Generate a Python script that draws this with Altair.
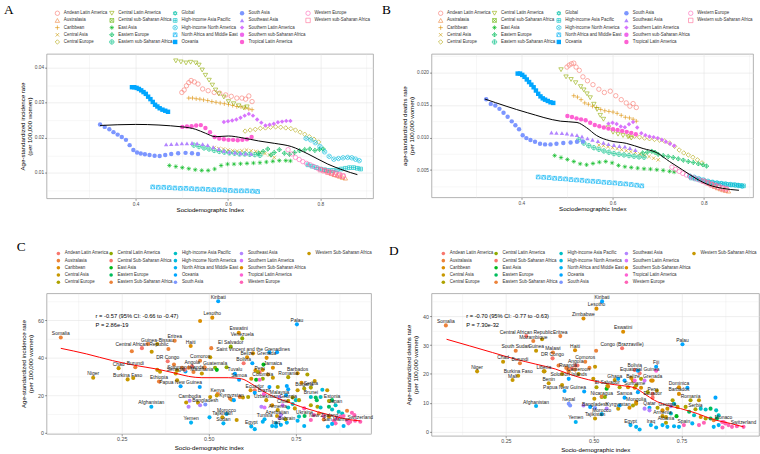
import math
import altair as alt
import pandas as pd

SANS = "Liberation Sans"
SERIF = "Liberation Serif"

# ---------------------------------------------------------------------------
# Regions (legend order)
# ---------------------------------------------------------------------------
region_codes = ["AND", "AUS", "CAR", "CAS", "CEU", "CLA", "CSSA", "EAS", "EEU", "ESSA", "GLB",
                "HAP", "HNA", "NAM", "OCE", "SAS", "SEA", "SLA", "SSSA", "TLA", "WEU", "WSSA"]
region_names_ab = ["Andean Latin America", "Australasia", "Caribbean", "Central Asia", "Central Europe",
                   "Central Latin America", "Central sub-Saharan Africa", "East Asia", "Eastern Europe",
                   "Eastern sub-Saharan Africa", "Global", "High-income Asia Pacific",
                   "High-income North America", "North Africa and Middle East", "Oceania", "South Asia",
                   "Southeast Asia", "Southern Latin America", "Southern sub-Saharan Africa",
                   "Tropical Latin America", "Western Europe", "Western sub-Saharan Africa"]
codes_cd = [c for c in region_codes if c != "GLB"]
region_names_cd = ["Andean Latin America", "Australasia", "Caribbean", "Central Asia", "Central Europe",
                   "Central Latin America", "Central Sub-Saharan Africa", "East Asia", "Eastern Europe",
                   "Eastern Sub-Saharan Africa", "High-income Asia Pacific", "High-income North America",
                   "North Africa and Middle East", "Oceania", "South Asia", "Southeast Asia",
                   "Southern Latin America", "Southern Sub-Saharan Africa", "Tropical Latin America",
                   "Western Europe", "Western Sub-Saharan Africa"]

# ---------------------------------------------------------------------------
# Regional trajectories 1990-2019: SDI, incidence rate, death rate
# ---------------------------------------------------------------------------
andean_sdi = [0.500, 0.505, 0.510, 0.515, 0.520, 0.527, 0.535, 0.545, 0.557, 0.570, 0.582, 0.595, 0.607, 0.619, 0.630, 0.638, 0.645, 0.652]
andean_inc = [0.0329, 0.0336, 0.0348, 0.0357, 0.0363, 0.0359, 0.0353, 0.0339, 0.0334, 0.0329, 0.0327, 0.0322, 0.0318, 0.0313, 0.0313, 0.0310, 0.0319, 0.0303]
andean_dth = [0.0208, 0.0211, 0.0213, 0.0214, 0.0208, 0.0203, 0.0193, 0.0187, 0.0181, 0.0174, 0.0169, 0.0171, 0.0164, 0.0158, 0.0153, 0.0148, 0.0152, 0.0146]

austral_sdi = [0.812, 0.818, 0.824, 0.830, 0.836, 0.842, 0.848, 0.854]
austral_inc = [0.0107, 0.0102, 0.0099, 0.0095, 0.0093, 0.0090, 0.0087, 0.0085]
austral_dth = [0.00293, 0.00268, 0.00247, 0.00227, 0.00212, 0.00197, 0.00187, 0.00177]

carib_sdi = [0.515, 0.523, 0.531, 0.539, 0.547, 0.556, 0.565, 0.574, 0.583, 0.592, 0.601, 0.610, 0.619, 0.628, 0.637, 0.645, 0.652]
carib_inc = [0.0313, 0.0313, 0.0311, 0.0310, 0.0308, 0.0306, 0.0303, 0.0301, 0.0299, 0.0297, 0.0295, 0.0292, 0.0289, 0.0288, 0.0285, 0.0282, 0.0280]
carib_dth = [0.0164, 0.0162, 0.0158, 0.0153, 0.0151, 0.0148, 0.0146, 0.0143, 0.0141, 0.0140, 0.0139, 0.0137, 0.0134, 0.0131, 0.0130, 0.0128, 0.0125]

casia_sdi = [0.570, 0.580, 0.590, 0.600, 0.610, 0.620, 0.630, 0.640, 0.650, 0.660, 0.670, 0.680, 0.690, 0.700]
casia_inc = [0.0172, 0.0169, 0.0168, 0.0165, 0.0163, 0.0162, 0.0163, 0.0165, 0.0163, 0.0161, 0.0158, 0.0155, 0.0151, 0.0144]
casia_dth = [0.00884, 0.00874, 0.00859, 0.00843, 0.00828, 0.00813, 0.00798, 0.00783, 0.00768, 0.00747, 0.00727, 0.00707, 0.00682, 0.00657]

ceurope_sdi = [0.637, 0.648, 0.659, 0.670, 0.681, 0.692, 0.703, 0.714, 0.725, 0.736, 0.746, 0.756, 0.766, 0.776, 0.786, 0.796]
ceurope_inc = [0.0219, 0.0222, 0.0224, 0.0227, 0.0228, 0.0230, 0.0231, 0.0230, 0.0228, 0.0226, 0.0222, 0.0216, 0.0210, 0.0203, 0.0196, 0.0188]
ceurope_dth = [0.01025, 0.0102, 0.01005, 0.0099, 0.0098, 0.0097, 0.0096, 0.00944, 0.00914, 0.00864, 0.00808, 0.00763, 0.00732, 0.00697, 0.00657, 0.00611]

clatam_sdi = [0.487, 0.498, 0.509, 0.519, 0.530, 0.537, 0.544, 0.551, 0.559, 0.566, 0.573, 0.580, 0.591, 0.601, 0.612, 0.623, 0.634, 0.641]
clatam_inc = [0.0419, 0.0416, 0.0413, 0.0415, 0.0413, 0.0407, 0.0393, 0.0378, 0.0364, 0.0350, 0.0336, 0.0325, 0.0316, 0.0303, 0.0297, 0.0291, 0.0285, 0.0288]
clatam_dth = [0.0204, 0.0193, 0.0189, 0.0184, 0.0178, 0.0173, 0.0167, 0.0161, 0.0151, 0.0143, 0.0134, 0.0128, 0.0115, 0.0108, 0.0105, 0.0103, 0.0101, 0.0099]

easia_sdi = [0.473, 0.487, 0.501, 0.515, 0.529, 0.543, 0.557, 0.571, 0.585, 0.599, 0.613, 0.627, 0.641, 0.655, 0.669, 0.683, 0.697, 0.711, 0.725, 0.735]
easia_inc = [0.0121, 0.0118, 0.0115, 0.0112, 0.0109, 0.0107, 0.0107, 0.0111, 0.0121, 0.0125, 0.0125, 0.0126, 0.0127, 0.0128, 0.0129, 0.0131, 0.0133, 0.0135, 0.0135, 0.0134]
easia_dth = [0.00722, 0.00692, 0.00662, 0.00631, 0.00596, 0.00581, 0.00601, 0.00621, 0.00631, 0.00611, 0.00571, 0.00551, 0.0054, 0.0053, 0.0052, 0.00515, 0.00505, 0.00495, 0.0048, 0.0047]

eeurope_sdi = [0.666, 0.676, 0.686, 0.693, 0.700, 0.711, 0.722, 0.733, 0.744, 0.755, 0.766, 0.777, 0.788, 0.798, 0.806]
eeurope_inc = [0.0156, 0.0161, 0.0168, 0.0151, 0.0158, 0.0166, 0.0156, 0.0153, 0.0158, 0.0163, 0.0166, 0.0168, 0.0164, 0.0167, 0.0168]
eeurope_dth = [0.00763, 0.00773, 0.00788, 0.00773, 0.00742, 0.00722, 0.00707, 0.00692, 0.00672, 0.00652, 0.00631, 0.00616, 0.00596, 0.00581, 0.00561]

essa_sdi = [0.526, 0.537, 0.548, 0.559, 0.570, 0.581, 0.592, 0.603, 0.614, 0.625, 0.636, 0.647, 0.658, 0.669]
essa_inc = [0.0179, 0.0175, 0.0171, 0.0168, 0.0164, 0.0161, 0.0159, 0.0157, 0.0156, 0.0154, 0.0154, 0.0153, 0.0152, 0.0150]
essa_dth = [0.00965, 0.00914, 0.00874, 0.00843, 0.00818, 0.00793, 0.00773, 0.00753, 0.00742, 0.00732, 0.00722, 0.00712, 0.00702, 0.00697]

hiap_sdi = [0.773, 0.782, 0.791, 0.800, 0.809, 0.818, 0.827, 0.836, 0.845, 0.854, 0.863, 0.872, 0.880, 0.887]
hiap_inc = [0.0123, 0.0119, 0.0115, 0.0111, 0.0109, 0.0107, 0.0107, 0.0109, 0.0111, 0.0113, 0.0115, 0.0115, 0.0113, 0.0111]
hiap_dth = [0.00379, 0.00364, 0.00348, 0.00333, 0.00318, 0.00308, 0.00298, 0.00293, 0.00288, 0.00278, 0.00273, 0.00268, 0.00263, 0.00258]

hina_sdi = [0.769, 0.779, 0.789, 0.799, 0.809, 0.819, 0.829, 0.839, 0.849, 0.859, 0.868, 0.876, 0.884]
hina_inc = [0.0198, 0.0194, 0.0186, 0.0175, 0.0160, 0.0147, 0.0139, 0.0141, 0.0143, 0.0144, 0.0143, 0.0139, 0.0135]
hina_dth = [0.00409, 0.00389, 0.00369, 0.00348, 0.00328, 0.00313, 0.00303, 0.00293, 0.00283, 0.00278, 0.00273, 0.00263, 0.00253]

nafme_sdi = [0.437, 0.449, 0.461, 0.473, 0.485, 0.497, 0.509, 0.521, 0.533, 0.545, 0.557, 0.569, 0.581, 0.593, 0.605, 0.617, 0.629, 0.641, 0.653, 0.664]
nafme_inc = [0.0060, 0.0059, 0.0059, 0.0058, 0.0057, 0.0056, 0.0056, 0.0055, 0.0054, 0.0054, 0.0053, 0.0052, 0.0052, 0.0051, 0.0050, 0.0049, 0.0049, 0.0049, 0.0048, 0.0047]
nafme_dth = [0.00394, 0.00389, 0.00384, 0.00374, 0.00369, 0.00364, 0.00354, 0.00348, 0.00343, 0.00333, 0.00328, 0.00323, 0.00313, 0.00308, 0.00303, 0.00293, 0.00288, 0.00278, 0.00268, 0.00258]

oceania_sdi = [0.392, 0.397, 0.402, 0.407, 0.412, 0.417, 0.422, 0.427, 0.432, 0.437, 0.442, 0.447, 0.452, 0.458, 0.464, 0.470]
oceania_inc = [0.0344, 0.0344, 0.0342, 0.0339, 0.0335, 0.0330, 0.0325, 0.0317, 0.0310, 0.0302, 0.0294, 0.0289, 0.0284, 0.0280, 0.0277, 0.0274]
oceania_dth = [0.0198, 0.0198, 0.0196, 0.0193, 0.0189, 0.0185, 0.0181, 0.0177, 0.0172, 0.0167, 0.0163, 0.0160, 0.0158, 0.0156, 0.0154, 0.0153]

sasia_sdi = [0.323, 0.333, 0.343, 0.352, 0.361, 0.370, 0.379, 0.387, 0.395, 0.403, 0.411, 0.420, 0.430, 0.441, 0.452, 0.464, 0.477, 0.492, 0.508, 0.522, 0.535]
sasia_inc = [0.0238, 0.0231, 0.0224, 0.0216, 0.0209, 0.0202, 0.0194, 0.0179, 0.0165, 0.0158, 0.0155, 0.0153, 0.0151, 0.0149, 0.0148, 0.0151, 0.0154, 0.0156, 0.0157, 0.0156, 0.0154]
sasia_dth = [0.01586, 0.01515, 0.0149, 0.01439, 0.01379, 0.01318, 0.01247, 0.01187, 0.01126, 0.01035, 0.0099, 0.0096, 0.00934, 0.00904, 0.00894, 0.00894, 0.00904, 0.00914, 0.00924, 0.00934, 0.00939]

seasia_sdi = [0.466, 0.477, 0.489, 0.500, 0.511, 0.522, 0.533, 0.545, 0.556, 0.568, 0.580, 0.591, 0.603, 0.615, 0.627, 0.638, 0.650]
seasia_inc = [0.0181, 0.0182, 0.0183, 0.0184, 0.0184, 0.0185, 0.0184, 0.0182, 0.0179, 0.0173, 0.0168, 0.0163, 0.0160, 0.0158, 0.0156, 0.0155, 0.0154]
seasia_dth = [0.01076, 0.01071, 0.01066, 0.01061, 0.01045, 0.01035, 0.01015, 0.00985, 0.00965, 0.00944, 0.00919, 0.00899, 0.00884, 0.00869, 0.00859, 0.00838, 0.00808]

slatam_sdi = [0.591, 0.600, 0.609, 0.618, 0.627, 0.636, 0.645, 0.654, 0.663, 0.672, 0.681, 0.690, 0.699, 0.708, 0.717, 0.726, 0.735]
slatam_inc = [0.0245, 0.0247, 0.0249, 0.0252, 0.0257, 0.0263, 0.0268, 0.0263, 0.0252, 0.0243, 0.0235, 0.0237, 0.0240, 0.0244, 0.0246, 0.0248, 0.0248]
slatam_dth = [0.01212, 0.01227, 0.01207, 0.01167, 0.01157, 0.01202, 0.01237, 0.01152, 0.01066, 0.01035, 0.01015, 0.01005, 0.0099, 0.00965, 0.00934, 0.00904, 0.00874]

tlatam_sdi = [0.501, 0.511, 0.521, 0.531, 0.541, 0.551, 0.561, 0.571, 0.581, 0.591, 0.601, 0.611, 0.621, 0.631, 0.641, 0.651]
tlatam_inc = [0.0231, 0.0232, 0.0233, 0.0235, 0.0236, 0.0228, 0.0216, 0.0202, 0.0198, 0.0196, 0.0194, 0.0194, 0.0193, 0.0194, 0.0196, 0.0202]
tlatam_dth = [0.01328, 0.01313, 0.01293, 0.01278, 0.01263, 0.01227, 0.01192, 0.01172, 0.01152, 0.01136, 0.01126, 0.01116, 0.01101, 0.01086, 0.01071, 0.0105]

weurope_sdi = [0.730, 0.738, 0.746, 0.754, 0.762, 0.770, 0.778, 0.786, 0.794, 0.802, 0.810, 0.818, 0.826, 0.834, 0.842, 0.850]
weurope_inc = [0.0166, 0.0154, 0.0144, 0.0138, 0.0132, 0.0127, 0.0123, 0.0118, 0.0113, 0.0109, 0.0107, 0.0104, 0.0102, 0.0100, 0.0096, 0.0091]
weurope_dth = [0.00545, 0.0051, 0.0048, 0.00449, 0.00424, 0.00399, 0.00379, 0.00359, 0.00338, 0.00318, 0.00303, 0.00283, 0.00268, 0.00253, 0.00232, 0.00217]

wssa_sdi = [0.800, 0.808, 0.816, 0.824, 0.832, 0.840, 0.848]
wssa_inc = [0.0109, 0.0106, 0.0102, 0.0099, 0.0096, 0.0093, 0.0091]
wssa_dth = [0.00328, 0.00303, 0.00278, 0.00258, 0.00237, 0.00217, 0.0020]

# Global expected curve by SDI
global_inc_sdi = [0.323, 0.400, 0.501, 0.530, 0.551, 0.573, 0.601, 0.630, 0.666, 0.701, 0.737, 0.773, 0.816, 0.851, 0.880]
global_inc = [0.0235, 0.0238, 0.0231, 0.0224, 0.0213, 0.0203, 0.0205, 0.0200, 0.0191, 0.0184, 0.0175, 0.0154, 0.0125, 0.0107, 0.0095]
global_dth_sdi = [0.320, 0.413, 0.486, 0.522, 0.543, 0.565, 0.594, 0.630, 0.667, 0.696, 0.725, 0.754, 0.783, 0.812, 0.841, 0.877]
global_dth = [0.0159, 0.0138, 0.0125, 0.0123, 0.0115, 0.0103, 0.0095, 0.0091, 0.0083, 0.0077, 0.0063, 0.0050, 0.0037, 0.0027, 0.0022, 0.0019]

trajectories = [
    ("AND", andean_sdi, andean_inc, andean_dth),
    ("AUS", austral_sdi, austral_inc, austral_dth),
    ("CAR", carib_sdi, carib_inc, carib_dth),
    ("CAS", casia_sdi, casia_inc, casia_dth),
    ("CEU", ceurope_sdi, ceurope_inc, ceurope_dth),
    ("CLA", clatam_sdi, clatam_inc, clatam_dth),
    ("EAS", easia_sdi, easia_inc, easia_dth),
    ("EEU", eeurope_sdi, eeurope_inc, eeurope_dth),
    ("ESSA", essa_sdi, essa_inc, essa_dth),
    ("HAP", hiap_sdi, hiap_inc, hiap_dth),
    ("HNA", hina_sdi, hina_inc, hina_dth),
    ("NAM", nafme_sdi, nafme_inc, nafme_dth),
    ("OCE", oceania_sdi, oceania_inc, oceania_dth),
    ("SAS", sasia_sdi, sasia_inc, sasia_dth),
    ("SEA", seasia_sdi, seasia_inc, seasia_dth),
    ("SLA", slatam_sdi, slatam_inc, slatam_dth),
    ("TLA", tlatam_sdi, tlatam_inc, tlatam_dth),
    ("WEU", weurope_sdi, weurope_inc, weurope_dth),
    ("WSSA", wssa_sdi, wssa_inc, wssa_dth),
]

# ---------------------------------------------------------------------------
# Countries, 2019: incidence (C)
# ---------------------------------------------------------------------------
inc_label_names = ["Kiribati", "Lesotho", "Palau", "Somalia", "Eswatini", "Venezuela", "Eritrea", "Guinea-Bissau",
                   "Central African Republic", "Haiti", "El Salvador", "Saint Vincent and the Grenadines", "Belize",
                   "Grenada", "DR Congo", "Comoros", "Bolivia", "Chad", "Burundi", "Angola", "Solomon Islands",
                   "Guatemala", "Jamaica", "Senegal", "Mauritania", "Tuvalu", "Barbados", "Niger", "Burkina Faso",
                   "Ethiopia", "Papua New Guinea", "Samoa", "Peru", "Colombia", "Romania", "Ecuador", "Bulgaria",
                   "Serbia", "Brazil", "Malaysia", "Kenya", "Kyrgyzstan", "Cambodia", "Bangladesh", "Uzbekistan",
                   "Georgia", "Brunei", "Estonia", "Chile", "Japan", "Afghanistan", "Armenia", "Azerbaijan",
                   "Ukraine", "Morocco", "Tajikistan", "Tunisia", "Sudan", "Yemen", "Egypt", "Iraq", "Bahrain",
                   "New Zealand", "San Marino", "Switzerland"]
inc_label_region = ["OCE", "SSSA", "OCE", "ESSA", "SSSA", "CLA", "ESSA", "WSSA", "CSSA", "CAR", "CLA", "CAR", "CAR",
                    "CAR", "CSSA", "ESSA", "AND", "WSSA", "ESSA", "CSSA", "OCE", "CLA", "CAR", "WSSA", "WSSA", "OCE",
                    "CAR", "WSSA", "WSSA", "ESSA", "OCE", "OCE", "AND", "CLA", "CEU", "AND", "CEU", "CEU", "TLA",
                    "SEA", "ESSA", "CAS", "SEA", "SAS", "CAS", "CAS", "HAP", "EEU", "SLA", "HAP", "NAM", "CAS",
                    "CAS", "EEU", "NAM", "CAS", "NAM", "NAM", "NAM", "NAM", "NAM", "NAM", "AUS", "WEU", "WEU"]
inc_label_sdi = [0.527, 0.510, 0.753, 0.075, 0.586, 0.596, 0.402, 0.352, 0.308, 0.448, 0.563, 0.627, 0.610,
                 0.666, 0.382, 0.475, 0.600, 0.241, 0.289, 0.452, 0.433, 0.518, 0.684, 0.405, 0.480, 0.575,
                 0.755, 0.168, 0.267, 0.357, 0.419, 0.587, 0.646, 0.655, 0.728, 0.632, 0.774, 0.793, 0.658,
                 0.703, 0.525, 0.565, 0.445, 0.490, 0.665, 0.728, 0.793, 0.854, 0.712, 0.864, 0.335, 0.698,
                 0.696, 0.775, 0.551, 0.539, 0.660, 0.542, 0.449, 0.622, 0.693, 0.724, 0.830, 0.864, 0.935]
inc_label_rate = [70.2, 61.4, 57.8, 50.8, 53.3, 50.3, 49.0, 47.3, 45.1, 46.2, 45.9, 42.3, 40.2,
                  39.9, 38.1, 38.4, 37.0, 34.4, 34.9, 35.4, 32.6, 34.6, 34.6, 31.5, 31.5, 31.4,
                  31.7, 29.3, 28.4, 27.3, 24.7, 28.2, 32.3, 28.7, 29.6, 22.6, 23.5, 24.0, 20.5,
                  19.0, 20.5, 17.6, 17.0, 15.0, 17.3, 16.9, 19.0, 17.3, 14.6, 14.6, 13.8, 12.0,
                  8.8, 8.8, 9.9, 8.1, 7.1, 4.9, 5.3, 3.2, 3.2, 5.3, 7.0, 4.9, 5.8]

inc_other_region = ["ESSA", "ESSA", "WSSA", "ESSA", "WSSA", "WSSA", "WSSA", "ESSA", "WSSA", "WSSA",
                    "ESSA", "CSSA", "ESSA", "ESSA", "OCE", "ESSA", "WSSA", "ESSA", "SSSA", "WSSA",
                    "SEA", "WSSA", "SEA", "WSSA", "NAM", "ESSA", "EAS", "CLA", "CAR", "CEU",
                    "CAR", "CAR", "CAS", "OCE", "OCE", "OCE", "EAS", "CAR", "EAS", "TLA",
                    "CAR", "CAS", "CEU", "OCE", "CEU", "OCE", "OCE", "CAS", "HNA", "CAS",
                    "CAR", "OCE", "ESSA", "CAS", "CEU", "WSSA", "ESSA", "OCE", "OCE", "CEU",
                    "HAP", "CEU", "EEU", "EEU", "HAP", "CEU", "SEA", "SLA", "CAR", "HAP",
                    "HAP", "CAS", "WEU", "CEU", "CEU", "HAP", "EEU", "HAP", "HAP", "HAP",
                    "AUS", "WEU", "WEU", "SEA", "SEA", "CEU", "HAP", "WEU", "AUS", "WEU",
                    "CAR", "WEU", "WEU", "WEU", "WEU", "WEU", "WEU", "WEU", "NAM", "NAM",
                    "NAM", "WEU", "NAM", "NAM", "NAM", "NAM", "NAM", "NAM", "NAM", "WEU", "CAS"]
inc_other_sdi = [0.279, 0.325, 0.336, 0.384, 0.283, 0.352, 0.360, 0.400, 0.409, 0.409,
                 0.423, 0.431, 0.442, 0.456, 0.474, 0.487, 0.504, 0.507, 0.475, 0.435,
                 0.442, 0.469, 0.475, 0.504, 0.502, 0.488, 0.523, 0.551, 0.634, 0.641,
                 0.655, 0.670, 0.684, 0.696, 0.674, 0.625, 0.657, 0.622, 0.636, 0.646,
                 0.766, 0.804, 0.783, 0.674, 0.698, 0.724, 0.728, 0.755, 0.826, 0.840,
                 0.620, 0.632, 0.589, 0.598, 0.613, 0.523, 0.561, 0.572, 0.722, 0.741,
                 0.750, 0.759, 0.807, 0.810, 0.821, 0.845, 0.651, 0.660, 0.682, 0.728,
                 0.741, 0.747, 0.774, 0.793, 0.812, 0.821, 0.845, 0.854, 0.873, 0.883,
                 0.897, 0.911, 0.918, 0.707, 0.703, 0.720, 0.759, 0.802, 0.816, 0.830,
                 0.845, 0.859, 0.868, 0.878, 0.887, 0.897, 0.906, 0.920, 0.842, 0.854,
                 0.887, 0.901, 0.632, 0.655, 0.682, 0.693, 0.707, 0.755, 0.774, 0.793, 0.580]
inc_other_rate = [43.4, 47.3, 43.2, 44.6, 29.1, 33.5, 32.5, 36.3, 33.2, 27.9,
                  34.6, 33.5, 34.6, 32.3, 24.3, 34.6, 40.2, 45.1, 59.6, 16.0,
                  13.8, 15.9, 14.6, 19.0, 8.1, 34.9, 33.5, 34.9, 33.2, 32.3,
                  33.5, 31.0, 29.3, 42.9, 42.9, 37.0, 36.3, 28.7, 28.2, 28.2,
                  26.6, 27.5, 31.0, 24.3, 24.3, 24.9, 23.1, 22.6, 22.9, 22.6,
                  22.6, 21.2, 19.0, 18.7, 19.0, 19.8, 18.2, 17.3, 19.9, 18.7,
                  17.3, 17.3, 18.7, 17.3, 19.0, 16.8, 13.8, 13.4, 14.6, 13.4,
                  15.2, 12.9, 12.9, 14.6, 13.8, 13.4, 13.8, 12.3, 11.1, 10.2,
                  11.6, 10.6, 9.3, 9.3, 7.6, 7.1, 8.5, 9.3, 10.2, 8.8,
                  8.5, 6.3, 7.6, 8.5, 8.8, 6.3, 5.8, 6.3, 3.2, 4.6,
                  3.5, 4.9, 1.8, 5.8, 3.5, 4.9, 4.1, 6.3, 3.5, 6.7, 6.7]

inc_fit_sdi = [0.075, 0.149, 0.224, 0.291, 0.348, 0.404, 0.442, 0.480, 0.518, 0.556, 0.594, 0.622, 0.651, 0.688, 0.726, 0.764, 0.812, 0.859, 0.897, 0.935]
inc_fit_rate = [45.0, 42.0, 38.4, 35.8, 34.0, 31.7, 30.0, 29.3, 29.3, 29.3, 28.7, 26.1, 22.6, 19.0, 16.4, 13.8, 11.1, 8.8, 7.1, 6.2]
inc_stats = ["r = -0.57 (95% CI: -0.66 to -0.47)", "P = 2.86e-19"]

# ---------------------------------------------------------------------------
# Countries, 2019: deaths (D)
# ---------------------------------------------------------------------------
dth_label_names = ["Kiribati", "Lesotho", "Zimbabwe", "Somalia", "Eswatini", "Central African Republic", "Eritrea",
                   "Mozambique", "Palau", "Haiti", "Congo (Brazzaville)", "South Sudan", "Guinea", "Malawi",
                   "DR Congo", "Chad", "Burundi", "Comoros", "Angola", "Rwanda", "Cameroon", "Liberia", "Niger",
                   "Burkina Faso", "Mali", "Solomon Islands", "Benin", "Papua New Guinea", "Bolivia", "Fiji",
                   "Equatorial Guinea", "Ghana", "Belize", "Grenada", "El Salvador", "Suriname", "Peru", "Ecuador",
                   "Dominica", "Barbados", "Romania", "Nicaragua", "Samoa", "Mongolia", "Kyrgyzstan", "Nepal",
                   "Bangladesh", "Morocco", "Afghanistan", "Tajikistan", "Yemen", "Egypt", "Iraq", "Albania",
                   "Serbia", "Qatar", "Armenia", "Georgia", "Spain", "Monaco", "Switzerland"]
dth_label_region = ["OCE", "SSSA", "SSSA", "ESSA", "SSSA", "CSSA", "ESSA", "ESSA", "OCE", "CAR", "CSSA", "ESSA",
                    "WSSA", "ESSA", "CSSA", "WSSA", "ESSA", "ESSA", "CSSA", "ESSA", "WSSA", "WSSA", "WSSA", "WSSA",
                    "WSSA", "OCE", "WSSA", "OCE", "AND", "OCE", "CSSA", "WSSA", "CAR", "CAR", "CLA", "CAR", "AND",
                    "AND", "CAR", "CAR", "CEU", "CLA", "OCE", "CAS", "CAS", "SAS", "SAS", "NAM", "NAM", "CAS",
                    "NAM", "NAM", "NAM", "CEU", "CEU", "NAM", "CAS", "CAS", "WEU", "WEU", "WEU"]
dth_label_sdi = [0.524, 0.508, 0.471, 0.079, 0.584, 0.308, 0.405, 0.328, 0.753, 0.447, 0.581, 0.278,
                 0.336, 0.384, 0.383, 0.242, 0.290, 0.476, 0.449, 0.427, 0.457, 0.358, 0.168, 0.285,
                 0.269, 0.429, 0.372, 0.417, 0.617, 0.678, 0.631, 0.560, 0.612, 0.668, 0.539, 0.617,
                 0.668, 0.668, 0.743, 0.743, 0.776, 0.523, 0.588, 0.621, 0.570, 0.429, 0.504, 0.523,
                 0.336, 0.504, 0.449, 0.605, 0.663, 0.706, 0.790, 0.659, 0.696, 0.710, 0.757, 0.870, 0.927]
dth_label_rate = [45.1, 42.6, 39.2, 36.8, 34.6, 33.1, 33.1, 31.4, 30.3, 28.2, 28.9, 28.0,
                  28.0, 27.4, 25.4, 24.2, 23.7, 24.2, 22.9, 21.5, 20.0, 20.9, 20.9, 19.4,
                  17.9, 18.3, 16.8, 14.1, 21.4, 22.5, 20.2, 17.9, 17.7, 17.7, 15.8, 15.2,
                  13.1, 11.8, 15.4, 13.1, 10.9, 12.0, 11.8, 9.7, 8.0, 9.7, 8.2, 6.1,
                  8.9, 4.6, 3.4, 2.3, 2.3, 3.1, 7.8, 8.3, 5.4, 8.0, 2.3, 3.4, 1.7]

dth_other_region = ["WSSA", "ESSA", "WSSA", "WSSA", "ESSA", "ESSA", "ESSA", "CSSA", "ESSA", "CSSA",
                    "WSSA", "OCE", "ESSA", "WSSA", "WSSA", "SAS", "SEA", "OCE", "WSSA", "OCE",
                    "TLA", "TLA", "OCE", "CAR", "CEU", "SLA", "CAR", "OCE", "CEU", "EAS",
                    "CAR", "CEU", "CAR", "CEU", "CAR", "OCE", "CEU", "CAS", "CAR", "CEU",
                    "CAR", "ESSA", "CLA", "OCE", "SEA", "OCE", "CAS", "OCE", "CEU", "HAP",
                    "SEA", "CAS", "CEU", "HAP", "HAP", "EEU", "HAP", "HAP", "CAS", "HAP",
                    "EAS", "EEU", "HAP", "CAR", "CEU", "EEU", "AUS", "EEU", "WEU", "WEU",
                    "WEU", "WEU", "WEU", "NAM", "NAM", "WEU", "NAM", "NAM", "NAM", "NAM",
                    "NAM", "NAM", "NAM", "NAM", "WEU", "WEU", "SEA", "SEA", "CEU", "CAR"]
dth_other_sdi = [0.353, 0.507, 0.360, 0.410, 0.400, 0.422, 0.429, 0.438, 0.447, 0.454,
                 0.410, 0.473, 0.488, 0.499, 0.504, 0.433, 0.471, 0.490, 0.502, 0.626,
                 0.678, 0.617, 0.588, 0.607, 0.635, 0.645, 0.664, 0.570, 0.508, 0.537,
                 0.541, 0.574, 0.598, 0.621, 0.635, 0.626, 0.654, 0.680, 0.621, 0.612,
                 0.602, 0.523, 0.532, 0.574, 0.537, 0.767, 0.800, 0.847, 0.725, 0.729,
                 0.720, 0.739, 0.762, 0.805, 0.819, 0.833, 0.849, 0.856, 0.706, 0.720,
                 0.736, 0.772, 0.786, 0.805, 0.819, 0.833, 0.842, 0.851, 0.866, 0.875,
                 0.884, 0.894, 0.908, 0.842, 0.856, 0.867, 0.621, 0.631, 0.678, 0.696,
                 0.710, 0.729, 0.743, 0.781, 0.800, 0.814, 0.645, 0.659, 0.682, 0.696]
dth_other_rate = [32.0, 28.0, 20.9, 16.2, 22.9, 22.1, 20.8, 21.9, 21.5, 22.9,
                  20.0, 13.9, 22.1, 18.3, 22.5, 9.1, 9.1, 8.6, 11.4, 21.1,
                  21.1, 17.7, 17.7, 18.6, 18.3, 17.7, 17.7, 18.3, 15.4, 14.9,
                  15.7, 15.4, 15.4, 16.0, 15.2, 13.7, 13.7, 14.3, 10.3, 9.1,
                  8.3, 12.2, 12.0, 9.1, 8.0, 15.2, 10.9, 11.8, 10.9, 9.7,
                  8.8, 8.6, 8.6, 8.0, 7.7, 8.0, 7.4, 5.7, 5.1, 6.3,
                  5.4, 6.9, 5.7, 5.1, 4.6, 4.6, 4.0, 4.6, 3.4, 2.9,
                  2.3, 1.7, 1.9, 1.7, 2.3, 1.5, 1.7, 0.8, 1.5, 2.3,
                  1.7, 1.9, 1.7, 2.9, 2.3, 3.1, 8.0, 7.4, 8.3, 7.4]

dth_fit_sdi = [0.081, 0.147, 0.212, 0.278, 0.335, 0.391, 0.429, 0.466, 0.504, 0.541, 0.579, 0.617, 0.645, 0.673, 0.711, 0.748, 0.795, 0.842, 0.889, 0.927]
dth_fit_rate = [32.0, 29.7, 27.4, 25.1, 23.4, 21.7, 20.0, 18.6, 17.5, 16.6, 16.0, 15.2, 13.1, 10.9, 9.1, 8.0, 6.3, 4.2, 2.9, 1.7]
dth_stats = ["r = -0.70 (95% CI: -0.77 to -0.63)", "P = 7.30e-32"]


# ---------------------------------------------------------------------------
# Styling helpers
# ---------------------------------------------------------------------------
def hcl_hex(h, c=100.0, l=65.0):
    """Polar CIE-Luv (as in R's hcl()) to an sRGB hex string."""
    xn, yn, zn = 95.047, 100.0, 108.883
    hr = math.radians(h)
    u, v = c * math.cos(hr), c * math.sin(hr)
    y = yn * ((l + 16.0) / 116.0) ** 3
    den = xn + 15 * yn + 3 * zn
    un, vn = 4 * xn / den, 9 * yn / den
    up, vp = u / (13 * l) + un, v / (13 * l) + vn
    x = y * 9 * up / (4 * vp)
    z = y * (12 - 3 * up - 20 * vp) / (4 * vp)
    x, y, z = x / 100, y / 100, z / 100
    rgb = (3.240479 * x - 1.537150 * y - 0.498535 * z,
           -0.969256 * x + 1.875992 * y + 0.041556 * z,
           0.055648 * x - 0.204043 * y + 1.057311 * z)

    def gam(t):
        t = 12.92 * t if t <= 0.0031308 else 1.055 * t ** (1 / 2.4) - 0.055
        return max(0, min(255, int(round(255 * t))))

    return "#%02X%02X%02X" % tuple(gam(t) for t in rgb)


def hue_palette(n):
    return [hcl_hex(15 + i * 360.0 / n) for i in range(n)]


colors_ab = hue_palette(len(region_codes))
colors_cd = hue_palette(len(codes_cd))
name_ab = dict(zip(region_codes, region_names_ab))
name_cd = dict(zip(codes_cd, region_names_cd))

CIRCLE_PATH = "M1,0A1,1,0,1,1,-1,0A1,1,0,1,1,1,0Z"
SHAPES = {
    "AND": "circle", "AUS": "triangle-up", "CAR": "M-1,0H1M0,-1V1",
    "CAS": "M-0.8,-0.8L0.8,0.8M-0.8,0.8L0.8,-0.8", "CEU": "diamond", "CLA": "triangle-down",
    "CSSA": "M-0.85,-0.85H0.85V0.85H-0.85ZM-0.85,-0.85L0.85,0.85M-0.85,0.85L0.85,-0.85",
    "EAS": "M-1,0H1M0,-1V1M-0.7,-0.7L0.7,0.7M-0.7,0.7L0.7,-0.7",
    "EEU": "M0,-1L1,0L0,1L-1,0ZM0,-1V1M-1,0H1",
    "ESSA": CIRCLE_PATH + "M-1,0H1M0,-1V1",
    "GLB": "M0,-1L0.87,0.5L-0.87,0.5ZM0,1L0.87,-0.5L-0.87,-0.5Z",
    "HAP": "M-0.85,-0.85H0.85V0.85H-0.85ZM-0.85,0H0.85M0,-0.85V0.85",
    "HNA": CIRCLE_PATH + "M-0.7,-0.7L0.7,0.7M-0.7,0.7L0.7,-0.7",
    "NAM": "M-0.85,-0.85H0.85V0.85H-0.85ZM-0.85,0.85L0,-0.85L0.85,0.85",
    "OCE": "square", "SAS": "circle", "SEA": "triangle-up", "SLA": "diamond",
    "SSSA": "circle", "TLA": "circle", "WEU": "circle", "WSSA": "square",
}
FILLED = {"OCE", "SAS", "SEA", "SLA", "SSSA", "TLA"}
SIZES = {c: 20 for c in region_codes}
SIZES.update({"OCE": 13, "SAS": 14, "SEA": 15, "SLA": 10, "SSSA": 16, "TLA": 8})

color_scale_ab = alt.Scale(domain=region_names_ab, range=colors_ab)
shape_scale_ab = alt.Scale(domain=region_names_ab, range=[SHAPES[c] for c in region_codes])
size_scale_ab = alt.Scale(domain=region_names_ab, range=[SIZES[c] for c in region_codes])
color_scale_cd = alt.Scale(domain=region_names_cd, range=colors_cd)


def make_axis(values, major, fmt, title, label_size, title_pad):
    return alt.Axis(
        values=values, title=title,
        labelExpr=f"({major}) ? format(datum.value, '{fmt}') : ''",
        tickOpacity={"condition": {"test": major, "value": 1}, "value": 0},
        gridWidth={"condition": {"test": major, "value": 0.6}, "value": 0.3},
        gridColor="#E4E4E4", grid=True, domain=False,
        ticks=True, tickSize=2, tickWidth=0.5, tickColor="#333333",
        labelFont=SANS, labelFontSize=label_size, labelColor="#4D4D4D", labelPadding=1,
        labelFlush=False, labelOverlap=False,
        titleFont=SANS, titleFontSize=6.2, titleFontWeight="normal", titleColor="#000000",
        titlePadding=title_pad, titleLineHeight=7.2,
    )


def legend_layer(codes, names, col_x, row_range, shaped, letter, letter_x, letter_y, spacer_x=None):
    rows = []
    for i, (c, n) in enumerate(zip(codes, names)):
        rows.append({"region": n, "lx": col_x[i // 5], "lrow": i % 5,
                     "filled": (c in FILLED) or not shaped})
    ldf = pd.DataFrame(rows)
    lx = alt.X("lx:Q", scale=alt.Scale(domain=[0, 400], range=[0, 400], nice=False, zero=False), axis=None)
    ly = alt.Y("lrow:Q", scale=alt.Scale(domain=[0, 4], range=row_range, nice=False, zero=False), axis=None)
    base = alt.Chart(ldf)
    layers = []
    if shaped:
        enc = dict(x=lx, y=ly,
                   color=alt.Color("region:N", scale=color_scale_ab, legend=None),
                   shape=alt.Shape("region:N", scale=shape_scale_ab, legend=None),
                   size=alt.Size("region:O", scale=size_scale_ab, legend=None))
        layers.append(base.transform_filter("!datum.filled").mark_point(filled=False, strokeWidth=0.6, opacity=1).encode(**enc))
        layers.append(base.transform_filter("datum.filled").mark_point(filled=True, opacity=1, strokeWidth=0).encode(**enc))
    else:
        layers.append(base.mark_circle(size=13, opacity=1).encode(
            x=lx, y=ly, color=alt.Color("region:N", scale=color_scale_cd, legend=None)))
    layers.append(base.mark_text(align="left", baseline="middle", dx=6.5, fontSize=4.5, font=SANS,
                                 color="#333333").encode(x=lx, y=ly, text="region:N"))
    tag = pd.DataFrame({"t": [letter]})
    layers.append(alt.Chart(tag).mark_text(align="left", baseline="alphabetic", font=SERIF, fontSize=13.5,
                                           color="#000000").encode(
        x=alt.value(letter_x), y=alt.value(letter_y), text="t:N"))
    if spacer_x is not None:
        layers.append(alt.Chart(tag).mark_text(align="left", baseline="alphabetic", font=SERIF, fontSize=13.5,
                                               opacity=0).encode(
            x=alt.value(spacer_x), y=alt.value(letter_y), text="t:N"))
    return alt.layer(*layers)


def trajectory_panel(kind, letter, xdom, ydom, yvals, ymajor, yfmt, ytitle, width, height,
                     col_x, letter_x, letter_y, ytitle_pad):
    rows = []
    for code, sdi, inc, dth in trajectories:
        vals = inc if kind == "inc" else dth
        for s, v in zip(sdi, vals):
            rows.append({"region": name_ab[code], "sdi": s, "rate": v, "filled": code in FILLED})
    df = pd.DataFrame(rows)
    if kind == "inc":
        gdf = pd.DataFrame({"sdi": global_inc_sdi, "rate": global_inc})
    else:
        gdf = pd.DataFrame({"sdi": global_dth_sdi, "rate": global_dth})

    xaxis = make_axis([0.3, 0.4, 0.5, 0.6, 0.7, 0.8, 0.9], "round(datum.value*10) % 2 == 0", ".1f",
                      "Sociodemographic Index", 4.8, 1)
    yaxis = make_axis(yvals, ymajor, yfmt, ytitle, 4.8, ytitle_pad)
    xenc = alt.X("sdi:Q", scale=alt.Scale(domain=xdom, nice=False, zero=False), axis=xaxis)
    yenc = alt.Y("rate:Q", scale=alt.Scale(domain=ydom, nice=False, zero=False), axis=yaxis)
    enc = dict(x=xenc, y=yenc,
               color=alt.Color("region:N", scale=color_scale_ab, legend=None),
               shape=alt.Shape("region:N", scale=shape_scale_ab, legend=None),
               size=alt.Size("region:O", scale=size_scale_ab, legend=None))
    base = alt.Chart(df)
    open_pts = base.transform_filter("!datum.filled").mark_point(filled=False, strokeWidth=0.6, opacity=1).encode(**enc)
    fill_pts = base.transform_filter("datum.filled").mark_point(filled=True, strokeWidth=0, opacity=1).encode(**enc)
    gline = alt.Chart(gdf).mark_line(color="#000000", strokeWidth=1, interpolate="monotone").encode(x=xenc, y=yenc)
    data_layer = alt.layer(open_pts, fill_pts, gline)
    leg = legend_layer(region_codes, region_names_ab, col_x, [-41, -12], True, letter, letter_x, letter_y)
    return alt.layer(data_layer, leg).resolve_scale(x="independent", y="independent").properties(
        width=width, height=height)


def scatter_panel(letter, lab_names, lab_reg, lab_sdi, lab_rate, oth_reg, oth_sdi, oth_rate,
                  fit_sdi, fit_rate, stats, stats_pos, xdom, ydom, yvals, ymajor, ytitle, width, height,
                  col_x, letter_x, letter_y, ytitle_pad, spacer_x=None):
    pts = pd.DataFrame({
        "name": list(lab_names) + [""] * len(oth_reg),
        "region": [name_cd[c] for c in lab_reg] + [name_cd[c] for c in oth_reg],
        "sdi": list(lab_sdi) + list(oth_sdi),
        "rate": list(lab_rate) + list(oth_rate),
    })
    fit = pd.DataFrame({"sdi": fit_sdi, "rate": fit_rate})
    ann = pd.DataFrame({"sdi": [stats_pos[0]] * 2, "rate": [stats_pos[1], stats_pos[2]], "txt": stats})

    xaxis = make_axis([0.125, 0.25, 0.375, 0.5, 0.625, 0.75, 0.875], "round(datum.value*8) % 2 == 0", ".2f",
                      "Socio-demographic index", 5.4, 2)
    yaxis = make_axis(yvals, ymajor, "d", ytitle, 5.4, ytitle_pad)
    xenc = alt.X("sdi:Q", scale=alt.Scale(domain=xdom, nice=False, zero=False), axis=xaxis)
    yenc = alt.Y("rate:Q", scale=alt.Scale(domain=ydom, nice=False, zero=False), axis=yaxis)

    dots = alt.Chart(pts).mark_circle(size=17, opacity=1).encode(
        x=xenc, y=yenc, color=alt.Color("region:N", scale=color_scale_cd, legend=None))
    fit_line = alt.Chart(fit).mark_line(color="#FF0000", strokeWidth=1, interpolate="monotone").encode(x=xenc, y=yenc)
    labels = alt.Chart(pts).transform_filter("datum.name != ''").mark_text(
        fontSize=5, font=SANS, color="#222222", dy=-4.5).encode(x=xenc, y=yenc, text="name:N")
    stat_text = alt.Chart(ann).mark_text(align="left", baseline="middle", fontSize=5.8, font=SANS,
                                         color="#000000").encode(x=xenc, y=yenc, text="txt:N")
    data_layer = alt.layer(dots, fit_line, labels, stat_text)
    leg = legend_layer(codes_cd, region_names_cd, col_x, [-40.3, -11.2], False, letter, letter_x, letter_y,
                       spacer_x)
    return alt.layer(data_layer, leg).resolve_scale(x="independent", y="independent").properties(
        width=width, height=height)


panel_a = trajectory_panel(
    "inc", "A", [0.207, 0.914], [0.00276, 0.0439],
    [0.005, 0.01, 0.015, 0.02, 0.025, 0.03, 0.035, 0.04], "round(datum.value*200) % 2 == 0", ".2f",
    ["Age-standardized incidence rate", "(per 100,000 women)"], 330, 146,
    [11, 66, 130, 197.6, 264.3], -43, -40, 2)
panel_b = trajectory_panel(
    "dth", "B", [0.203, 0.908], [0.00082, 0.02283],
    [0.0025, 0.005, 0.0075, 0.01, 0.0125, 0.015, 0.0175, 0.02, 0.0225], "round(datum.value*400) % 2 == 0", ".3f",
    ["age-standardized deaths rate", "(per 100,000 women)"], 325, 145,
    [9.3, 63.7, 128.7, 197, 262], -50, -40, 2)
panel_c = scatter_panel(
    "C", inc_label_names, inc_label_region, inc_label_sdi, inc_label_rate,
    inc_other_region, inc_other_sdi, inc_other_rate, inc_fit_sdi, inc_fit_rate,
    inc_stats, (0.175, 62.3, 57.3), [0.034, 0.966], [-0.7, 74.4],
    [0, 10, 20, 30, 40, 50, 60, 70], "round(datum.value/10) % 2 == 0",
    ["Age-standardized incidence rate", "(per 100,000 women)"], 328, 142,
    [12, 65.3, 130.3, 197, 265.3], -30, -43, 4, spacer_x=-43)
panel_d = scatter_panel(
    "D", dth_label_names, dth_label_region, dth_label_sdi, dth_label_rate,
    dth_other_region, dth_other_sdi, dth_other_rate, dth_fit_sdi, dth_fit_rate,
    dth_stats, (0.137, 40.0, 36.8), [0.038, 0.971], [-1.4, 47.9],
    [0, 5, 10, 15, 20, 25, 30, 35, 40, 45], "round(datum.value/5) % 2 == 0",
    ["Age-standardized deaths rate", "(per 100,000 women)"], 331, 144,
    [12, 65.3, 131, 197, 265.3], -43, -39, 4)

row1 = alt.hconcat(panel_a, panel_b, spacing=7)
row2 = alt.hconcat(panel_c, panel_d, spacing=14)
chart = alt.vconcat(row1, row2, spacing=25).properties(
    padding={"left": 3, "top": 0, "right": 0, "bottom": 0},
    background="#FFFFFF",
).configure_view(stroke="#A0A0A0", strokeWidth=0.8)

chart.save("out.html", embed_options={"renderer": "svg", "actions": False})
